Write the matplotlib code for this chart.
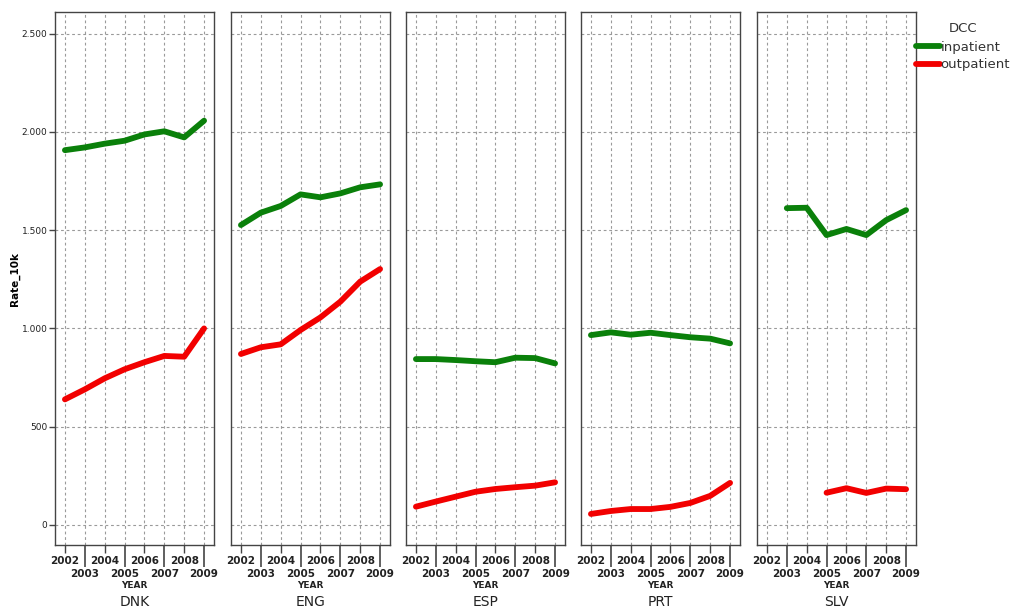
import matplotlib
matplotlib.use("Agg")
import matplotlib.pyplot as plt
from matplotlib.ticker import FuncFormatter

years = [2002, 2003, 2004, 2005, 2006, 2007, 2008, 2009]
countries = ["DNK", "ENG", "ESP", "PRT", "SLV"]

inpatient = {
    "DNK": [1907, 1921, 1940, 1955, 1987, 2003, 1972, 2057],
    "ENG": [1526, 1589, 1623, 1682, 1667, 1687, 1718, 1733],
    "ESP": [844, 844, 839, 833, 828, 851, 849, 822],
    "PRT": [966, 980, 968, 978, 966, 955, 948, 924],
    "SLV": [None, 1612, 1614, 1475, 1506, 1475, 1551, 1602],
}
outpatient = {
    "DNK": [639, 690, 746, 792, 828, 860, 856, 1000],
    "ENG": [870, 904, 919, 992, 1056, 1136, 1238, 1302],
    "ESP": [93, 119, 144, 169, 183, 192, 200, 217],
    "PRT": [56, 71, 81, 81, 92, 112, 148, 214],
    "SLV": [None, None, None, 164, 187, 163, 185, 182],
}
yticks = [0, 500, 1000, 1500, 2000, 2500]

GREEN = "#0a800a"
RED = "#f20000"
FRAME = "#444444"

W, H = 1013, 610
fig = plt.figure(figsize=(W / 100, H / 100), dpi=100)

lefts = [55, 231, 406, 581, 757]
pw = 159
top, bottom = 12, 545

def split(xs, ys):
    px = [x for x, y in zip(xs, ys) if y is not None]
    py = [y for y in ys if y is not None]
    return px, py

even = [y for y in years if y % 2 == 0]
odd = [y for y in years if y % 2 == 1]

for i, c in enumerate(countries):
    ax = fig.add_axes([lefts[i] / W, 1 - bottom / H, pw / W, (bottom - top) / H])
    ax.set_xlim(2001.5, 2009.5)
    ax.set_ylim(-102, 2610)
    ax.set_yticks(yticks)
    ax.yaxis.set_major_formatter(FuncFormatter(lambda v, p: f"{v:,.0f}".replace(",", ".")))
    ax.set_xticks(even)
    ax.set_xticklabels([str(y) for y in even])
    ax.set_xticks(odd, minor=True)
    ax.set_xticklabels([str(y) for y in odd], minor=True)
    ax.tick_params(axis="x", which="major", length=5.8, width=1.0, color=FRAME,
                   pad=2, labelsize=7.5)
    ax.tick_params(axis="x", which="minor", length=15.5, width=1.2, color=FRAME,
                   pad=1.5, labelsize=7.5)
    for lab in ax.get_xticklabels(which="both"):
        lab.set_fontweight("bold")
        lab.set_color("#222222")
    for x in years:
        ax.axvline(x, color="#9a9a9a", lw=0.8, ls=(0, (2.5, 2.5)), zorder=0)
    for yv in yticks:
        ax.axhline(yv, color="#9a9a9a", lw=0.8, ls=(0, (2.5, 2.5)), zorder=0)
    if i == 0:
        ax.tick_params(axis="y", length=4.5, width=1.0, color=FRAME, pad=1,
                       labelsize=6.5, labelcolor="#222222")
        ax.set_ylabel("Rate_10k", fontsize=7.5, fontweight="bold", labelpad=1)
    else:
        ax.tick_params(axis="y", length=0, labelleft=False)
    for s in ax.spines.values():
        s.set_color(FRAME)
        s.set_linewidth(1.0)

    px, py = split(years, inpatient[c])
    l1, = ax.plot(px, py, color=GREEN, lw=4.2, solid_capstyle="round",
                  solid_joinstyle="round", label="inpatient")
    px, py = split(years, outpatient[c])
    l2, = ax.plot(px, py, color=RED, lw=4.2, solid_capstyle="round",
                  solid_joinstyle="round", label="outpatient")

    ax.set_xlabel("YEAR", fontsize=6.5, fontweight="bold", labelpad=2, color="#222222")
    ax.text(0.5, -(602 - bottom) / (bottom - top), c, transform=ax.transAxes,
            ha="center", va="center", fontsize=10, color="#222222")

leg = fig.legend(handles=[l1, l2], loc="upper left",
                 bbox_to_anchor=(911 / W, 1 - 17 / H), frameon=False,
                 title="DCC", fontsize=9.5, title_fontsize=9.5,
                 handlelength=1.8, handletextpad=0.05, labelspacing=0.35,
                 borderaxespad=0)
leg.get_title().set_color("#333333")
leg._legend_box.sep = 4
for t in leg.get_texts():
    t.set_color("#333333")

fig.savefig("out.png", dpi=100)
